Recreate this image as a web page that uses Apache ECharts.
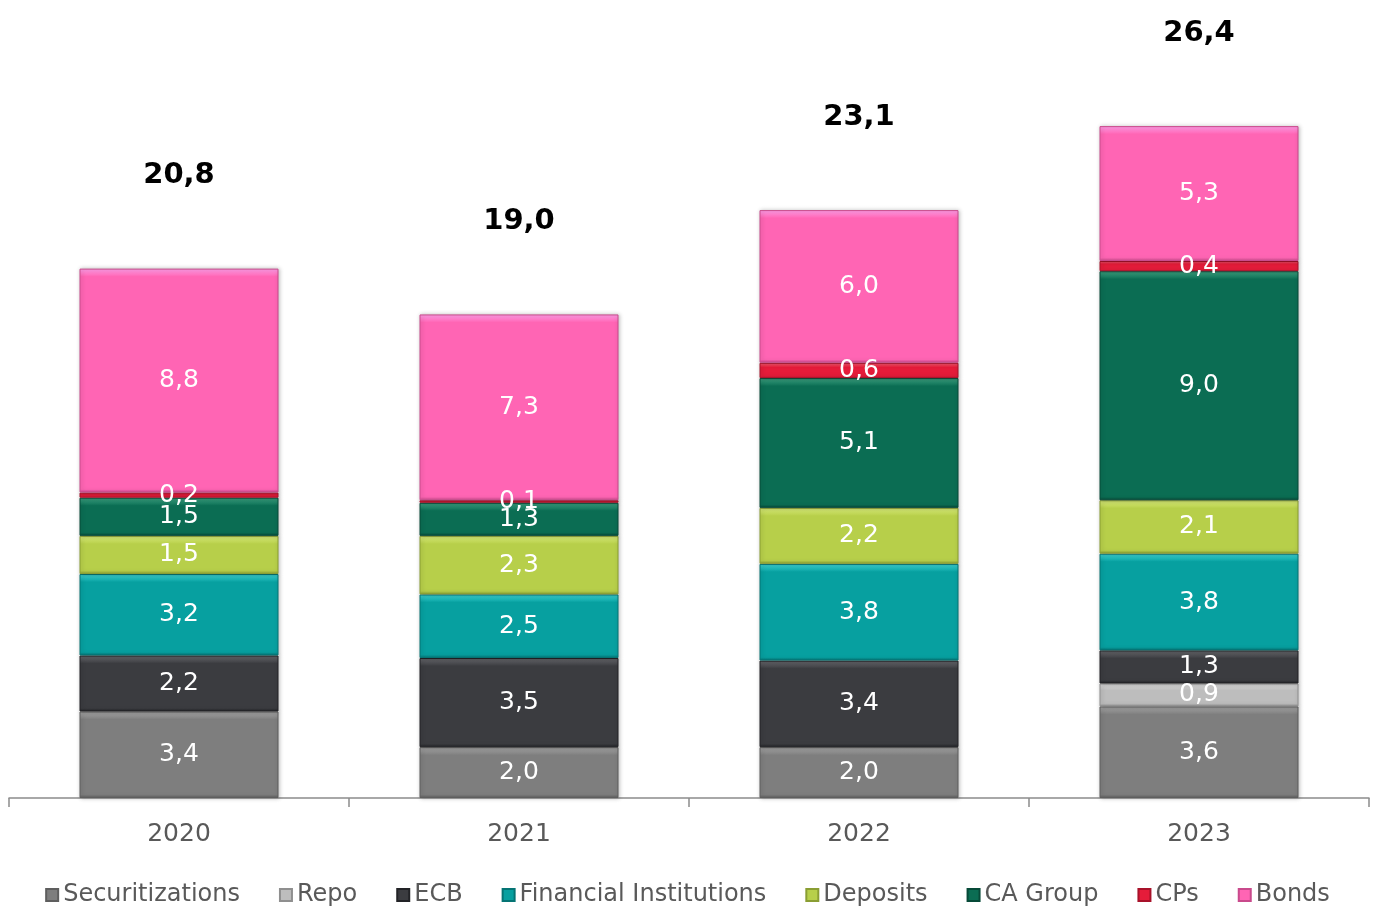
<!DOCTYPE html>
<html>
<head>
<meta charset="utf-8">
<script src="https://cdn.jsdelivr.net/npm/echarts@6/dist/echarts.min.js"></script>
<style>
  html, body { margin: 0; padding: 0; background: #fff; }
  #chart { width: 1375px; height: 906px; }
</style>
</head>
<body>
<div id="chart"></div>
<script>
const years = ['2020', '2021', '2022', '2023']

const securitizations = [3.4, 2.0, 2.0, 3.6]
const repo = [null, null, null, 0.9]
const ecb = [2.2, 3.5, 3.4, 1.3]
const financialInstitutions = [3.2, 2.5, 3.8, 3.8]
const deposits = [1.5, 2.3, 2.2, 2.1]
const caGroup = [1.5, 1.3, 5.1, 9.0]
const cps = [0.2, 0.1, 0.6, 0.4]
const bonds = [8.8, 7.3, 6.0, 5.3]
const totals = [20.8, 19.0, 23.1, 26.4]

const font = 'DejaVu Sans'
const pxPerUnit = 25.45

const fmt = v => v == null ? '' : v.toFixed(1).replace('.', ',')

// bevel-ish look: light band on top, dark band at the bottom
const bevel = (value, base, light, dark) => {
  if (value == null) return null
  const f = Math.min(0.3, 8 / (value * pxPerUnit))
  return {
    value,
    itemStyle: {
      color: new echarts.graphic.LinearGradient(0, 0, 0, 1, [
        { offset: 0, color: light },
        { offset: f, color: base },
        { offset: 1 - f * 0.4, color: base },
        { offset: 1, color: dark }
      ])
    }
  }
}

const makeSeries = (name, values, base, light, dark) => ({
  name,
  type: 'bar',
  stack: 'total',
  barWidth: 199,
  data: values.map(v => bevel(v, base, light, dark)),
  itemStyle: {
    color: base,
    borderColor: dark,
    borderWidth: 1,
    shadowColor: 'rgba(0,0,0,0.25)',
    shadowBlur: 4,
    shadowOffsetX: 1
  },
  label: {
    show: true,
    position: 'inside',
    color: '#fff',
    fontFamily: font,
    fontSize: 25,
    formatter: p => fmt(p.value)
  }
})

const chart = echarts.init(document.getElementById('chart'))

chart.setOption({
  backgroundColor: '#fff',
  animation: false,
  grid: { left: 9, right: 6, top: 34.5, bottom: 108 },
  legend: {
    bottom: -6,
    left: 'center',
    icon: 'rect',
    itemWidth: 12,
    itemHeight: 12,
    itemGap: 39,
    textStyle: { color: '#595959', fontFamily: font, fontSize: 24 },
    data: ['Securitizations', 'Repo', 'ECB', 'Financial Institutions', 'Deposits', 'CA Group', 'CPs', 'Bonds']
  },
  xAxis: {
    type: 'category',
    data: years,
    axisLine: { lineStyle: { color: '#8c8c8c', width: 1.5 } },
    axisTick: { show: true, length: 9, lineStyle: { color: '#8c8c8c', width: 1.5 } },
    axisLabel: { color: '#595959', fontFamily: font, fontSize: 25, margin: 24 }
  },
  yAxis: { type: 'value', min: 0, max: 30, show: false },
  series: [
    makeSeries('Securitizations', securitizations, '#7e7e7e', '#a8a8a8', '#5e5e5e'),
    makeSeries('Repo', repo, '#bdbdbd', '#dcdcdc', '#8f8f8f'),
    makeSeries('ECB', ecb, '#3b3c40', '#6a6b70', '#222326'),
    makeSeries('Financial Institutions', financialInstitutions, '#07a0a0', '#3fd8d8', '#057474'),
    makeSeries('Deposits', deposits, '#b7cf4a', '#dcef7c', '#8a9e33'),
    makeSeries('CA Group', caGroup, '#0b6d53', '#3fa684', '#074a38'),
    makeSeries('CPs', cps, '#e51c3a', '#ff5f75', '#a8122a'),
    makeSeries('Bonds', bonds, '#ff65b4', '#ff9ee8', '#c94a8c'),
    {
      name: 'Total',
      type: 'line',
      data: totals,
      symbol: 'circle',
      symbolSize: 1,
      itemStyle: { color: 'rgba(0,0,0,0)' },
      lineStyle: { width: 0, color: 'rgba(0,0,0,0)' },
      silent: true,
      z: 10,
      label: {
        show: true,
        position: 'top',
        distance: 78,
        color: '#000',
        fontFamily: font,
        fontWeight: 'bold',
        fontSize: 29,
        formatter: p => fmt(p.value)
      }
    }
  ]
})
</script>
</body>
</html>
